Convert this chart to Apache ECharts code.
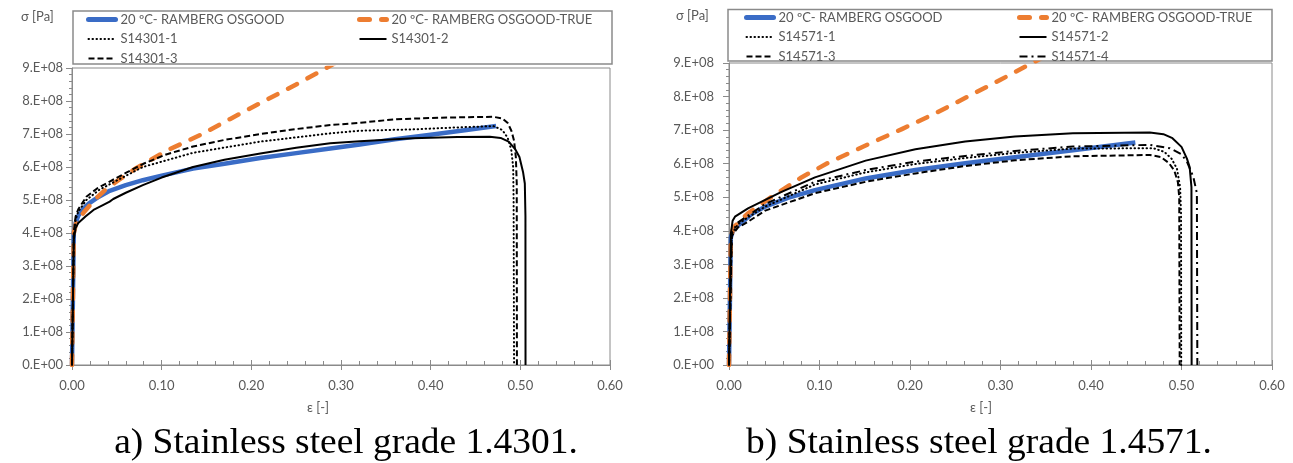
<!DOCTYPE html>
<html><head><meta charset="utf-8">
<script src="https://cdn.jsdelivr.net/npm/echarts@6/dist/echarts.min.js"></script>
<style>html,body{margin:0;padding:0;background:#fff}#c{width:1293px;height:463px}</style>
</head><body><div id="c"></div>
<script>
// ---------- tick labels ----------
const xTickLabels = ['0.00','0.10','0.20','0.30','0.40','0.50','0.60'];
const yTickLabels = ['0.E+00','1.E+08','2.E+08','3.E+08','4.E+08','5.E+08','6.E+08','7.E+08','8.E+08','9.E+08'];

// ---------- series names ----------
const nameRO  = '20 ºC- RAMBERG OSGOOD';
const nameROT = '20 ºC- RAMBERG OSGOOD-TRUE';
const namesA = ['S14301-1','S14301-2','S14301-3'];
const namesB = ['S14571-1','S14571-2','S14571-3','S14571-4'];
const captionA = 'a) Stainless steel grade 1.4301.';
const captionB = 'b) Stainless steel grade 1.4571.';

// ---------- chart a) 1.4301 : [strain, stress Pa] ----------
const a_RO = [[0,0],[0.002,4.0e8],[0.004,4.3e8],[0.007,4.52e8],[0.012,4.72e8],[0.019,4.9e8],[0.03,5.1e8],[0.042,5.28e8],[0.06,5.45e8],[0.079,5.6e8],[0.1,5.74e8],[0.135,5.95e8],[0.17,6.1e8],[0.21,6.27e8],[0.25,6.42e8],[0.288,6.56e8],[0.321,6.68e8],[0.36,6.84e8],[0.4,6.98e8],[0.44,7.12e8],[0.473,7.24e8]];
const a_ROT = [[0,0],[0.002,4.0e8],[0.005,4.35e8],[0.013,4.62e8],[0.025,5.0e8],[0.039,5.36e8],[0.055,5.66e8],[0.072,5.97e8],[0.106,6.5e8],[0.143,6.97e8],[0.176,7.45e8],[0.213,7.98e8],[0.25,8.5e8],[0.285,9.02e8],[0.31,9.4e8]];
const a_S1 = [[0,0],[0.002,3.9e8],[0.004,4.4e8],[0.007,4.65e8],[0.016,5.0e8],[0.03,5.3e8],[0.045,5.52e8],[0.079,6.0e8],[0.135,6.43e8],[0.21,6.77e8],[0.288,7.02e8],[0.321,7.1e8],[0.38,7.14e8],[0.43,7.2e8],[0.47,7.24e8],[0.48,7.12e8],[0.486,6.88e8],[0.49,6.5e8],[0.492,6.0e8],[0.4925,5.0e8],[0.493,0]];
const a_S2 = [[0,0],[0.002,3.8e8],[0.004,4.15e8],[0.007,4.3e8],[0.015,4.5e8],[0.024,4.7e8],[0.035,4.85e8],[0.042,4.95e8],[0.046,5.03e8],[0.06,5.22e8],[0.079,5.45e8],[0.1,5.68e8],[0.135,6.0e8],[0.17,6.22e8],[0.21,6.41e8],[0.25,6.58e8],[0.288,6.72e8],[0.321,6.78e8],[0.38,6.87e8],[0.43,6.91e8],[0.466,6.92e8],[0.478,6.88e8],[0.487,6.77e8],[0.494,6.55e8],[0.499,6.3e8],[0.503,5.85e8],[0.505,5.5e8],[0.5057,4.5e8],[0.5058,0]];
const a_S3 = [[0,0],[0.002,4.0e8],[0.004,4.5e8],[0.007,4.72e8],[0.016,5.1e8],[0.028,5.35e8],[0.042,5.56e8],[0.06,5.82e8],[0.079,6.09e8],[0.105,6.38e8],[0.135,6.62e8],[0.17,6.82e8],[0.21,7.0e8],[0.25,7.15e8],[0.288,7.27e8],[0.321,7.34e8],[0.362,7.45e8],[0.42,7.5e8],[0.47,7.52e8],[0.48,7.47e8],[0.486,7.33e8],[0.49,7.1e8],[0.493,6.8e8],[0.495,6.3e8],[0.496,5.5e8],[0.4962,0]];

// ---------- chart b) 1.4571 ----------
const b_RO = [[0,0],[0.002,3.8e8],[0.005,4.05e8],[0.014,4.25e8],[0.025,4.5e8],[0.04,4.72e8],[0.065,4.98e8],[0.095,5.21e8],[0.151,5.56e8],[0.206,5.81e8],[0.261,6.01e8],[0.288,6.1e8],[0.316,6.19e8],[0.38,6.4e8],[0.449,6.63e8]];
const b_ROT = [[0,0],[0.002,3.8e8],[0.005,4.1e8],[0.021,4.52e8],[0.047,5.01e8],[0.08,5.59e8],[0.11,6.03e8],[0.154,6.58e8],[0.191,7.03e8],[0.228,7.5e8],[0.264,8.0e8],[0.3,8.5e8],[0.335,9.0e8],[0.36,9.35e8]];
const b_S1 = [[0,0],[0.003,3.9e8],[0.01,4.2e8],[0.021,4.4e8],[0.04,4.72e8],[0.095,5.38e8],[0.151,5.74e8],[0.206,5.99e8],[0.261,6.17e8],[0.316,6.32e8],[0.38,6.45e8],[0.469,6.46e8],[0.481,6.35e8],[0.489,6.15e8],[0.495,5.85e8],[0.4985,5.3e8],[0.4995,4.5e8],[0.4997,0]];
const b_S2 = [[0,0],[0.002,3.9e8],[0.004,4.3e8],[0.0066,4.42e8],[0.021,4.67e8],[0.058,5.16e8],[0.095,5.59e8],[0.151,6.09e8],[0.206,6.43e8],[0.261,6.66e8],[0.316,6.81e8],[0.38,6.91e8],[0.465,6.93e8],[0.48,6.88e8],[0.49,6.76e8],[0.5,6.5e8],[0.506,6.15e8],[0.509,5.9e8],[0.511,5.3e8],[0.5112,0]];
const b_S3 = [[0,0],[0.003,3.85e8],[0.01,4.1e8],[0.021,4.27e8],[0.04,4.6e8],[0.095,5.12e8],[0.151,5.46e8],[0.206,5.71e8],[0.261,5.93e8],[0.316,6.1e8],[0.38,6.22e8],[0.465,6.26e8],[0.477,6.2e8],[0.486,6.02e8],[0.492,5.8e8],[0.496,5.45e8],[0.4975,5.0e8],[0.498,0]];
const b_S4 = [[0,0],[0.003,3.95e8],[0.01,4.25e8],[0.021,4.45e8],[0.04,4.8e8],[0.095,5.46e8],[0.151,5.81e8],[0.206,6.06e8],[0.261,6.23e8],[0.316,6.38e8],[0.38,6.51e8],[0.465,6.56e8],[0.487,6.46e8],[0.5,6.28e8],[0.506,6.06e8],[0.513,5.61e8],[0.517,5.12e8],[0.5175,0]];

// ---------- styles ----------
const gray = '#8a8a8a', txt = '#595959', FONT = 'Lato', FS = 13;
const st = {
  RO:  {color:'#3a6cc6', width:4.5, type:'solid'},
  ROT: {color:'#ED7D31', width:4.5, type:[10,12], cap:'round'},
  S1:  {color:'#000', width:2, type:[0.5,3.5], cap:'round'},
  S2:  {color:'#000', width:2, type:'solid'},
  S3:  {color:'#000', width:2, type:[6,3]},
  S4:  {color:'#000', width:2, type:[8,4,2,4]}
};
function ser(name, data, s, idx){
  return {name, type:'line', data, xAxisIndex:idx, yAxisIndex:idx, showSymbol:false, symbol:'none',
    clip:true, animation:false, itemStyle:{color:s.color},
    lineStyle:{color:s.color, width:s.width, type:s.type, cap:s.cap||'butt', join:'round'}};
}
function xAx(grid, overlay){
  return {type:'value', gridIndex:grid, min:0, max:0.6, interval:0.1, position:'bottom',
    axisLine:{show:!overlay, lineStyle:{color:gray}},
    axisTick:{show:true, inside:!!overlay, length:5, lineStyle:{color:gray}},
    minorTick:{show:!!overlay, splitNumber:5, length:4, lineStyle:{color:gray}},
    splitLine:{show:false},
    axisLabel:{show:!overlay, margin:14, color:txt, fontFamily:FONT, fontSize:FS,
      formatter:v=>xTickLabels[Math.round(v/0.1)]}};
}
function yAx(grid, margin){
  return {type:'value', gridIndex:grid, min:0, max:9e8, interval:1e8,
    axisLine:{show:true, lineStyle:{color:gray}},
    axisTick:{show:true, length:6, lineStyle:{color:gray}},
    minorTick:{show:true, splitNumber:5, length:3, lineStyle:{color:gray}},
    splitLine:{show:false},
    axisLabel:{margin:margin, color:txt, fontFamily:FONT, fontSize:FS,
      formatter:v=>yTickLabels[Math.round(v/1e8)]}};
}
function legItem(name){
  const thick = (name === nameRO || name === nameROT);
  return thick ? {name, lineStyle:{width:5, cap:'round'}} : {name};
}
function leg(left, top, names){
  return {left, top, orient:'vertical', data:names.map(legItem), itemWidth:27, itemHeight:12, itemGap:6.5,
    selectedMode:false, padding:0, itemStyle:{opacity:0},
    textStyle:{color:txt, fontFamily:FONT, fontSize:FS}};
}

const chart = echarts.init(document.getElementById('c'), null, {renderer:'canvas'});
chart.setOption({
  animation:false,
  backgroundColor:'#fff',
  grid:[
    {left:72, top:68, width:538, height:297, show:true, borderColor:gray, borderWidth:1, containLabel:false},
    {left:729, top:63, width:543, height:302, show:true, borderColor:gray, borderWidth:1, containLabel:false}
  ],
  xAxis:[xAx(0,false), xAx(1,false), xAx(0,true), xAx(1,true)],
  yAxis:[yAx(0,9), yAx(1,15)],
  legend:[
    leg(86, 13, [nameRO, namesA[0], namesA[2]]),
    leg(357, 13, [nameROT, namesA[1]]),
    leg(744, 11, [nameRO, namesB[0], namesB[2]]),
    leg(1017, 11, [nameROT, namesB[1], namesB[3]])
  ],
  series:[
    ser(nameRO, a_RO, st.RO, 0),
    ser(nameROT, a_ROT, st.ROT, 0),
    ser(namesA[0], a_S1, st.S1, 0),
    ser(namesA[1], a_S2, st.S2, 0),
    ser(namesA[2], a_S3, st.S3, 0),
    ser(nameRO, b_RO, st.RO, 1),
    ser(nameROT, b_ROT, st.ROT, 1),
    ser(namesB[0], b_S1, st.S1, 1),
    ser(namesB[1], b_S2, st.S2, 1),
    ser(namesB[2], b_S3, st.S3, 1),
    ser(namesB[3], b_S4, st.S4, 1)
  ],
  graphic:[
    {type:'rect', shape:{x:73, y:11, width:539, height:53}, style:{fill:'none', stroke:gray, lineWidth:1.5}, silent:true, z:-1},
    {type:'rect', shape:{x:728, y:9.5, width:544, height:51.5}, style:{fill:'none', stroke:gray, lineWidth:1.5}, silent:true, z:-1},
    {type:'text', left:21, top:10, style:{text:'σ [Pa]', fill:txt, font:'13px Lato'}},
    {type:'text', left:676, top:9, style:{text:'σ [Pa]', fill:txt, font:'13px Lato'}},
    {type:'text', x:318, y:408, style:{text:'ε [-]', fill:txt, font:'13px Lato', align:'center', verticalAlign:'middle'}},
    {type:'text', x:981, y:408, style:{text:'ε [-]', fill:txt, font:'13px Lato', align:'center', verticalAlign:'middle'}},
    {type:'text', x:346, y:444, scaleX:1.04, style:{text:captionA, fill:'#000', fontSize:36, fontFamily:'Liberation Serif', align:'center', verticalAlign:'middle'}},
    {type:'text', x:979, y:444, scaleX:1.04, style:{text:captionB, fill:'#000', fontSize:36, fontFamily:'Liberation Serif', align:'center', verticalAlign:'middle'}}
  ]
});
</script></body></html>
